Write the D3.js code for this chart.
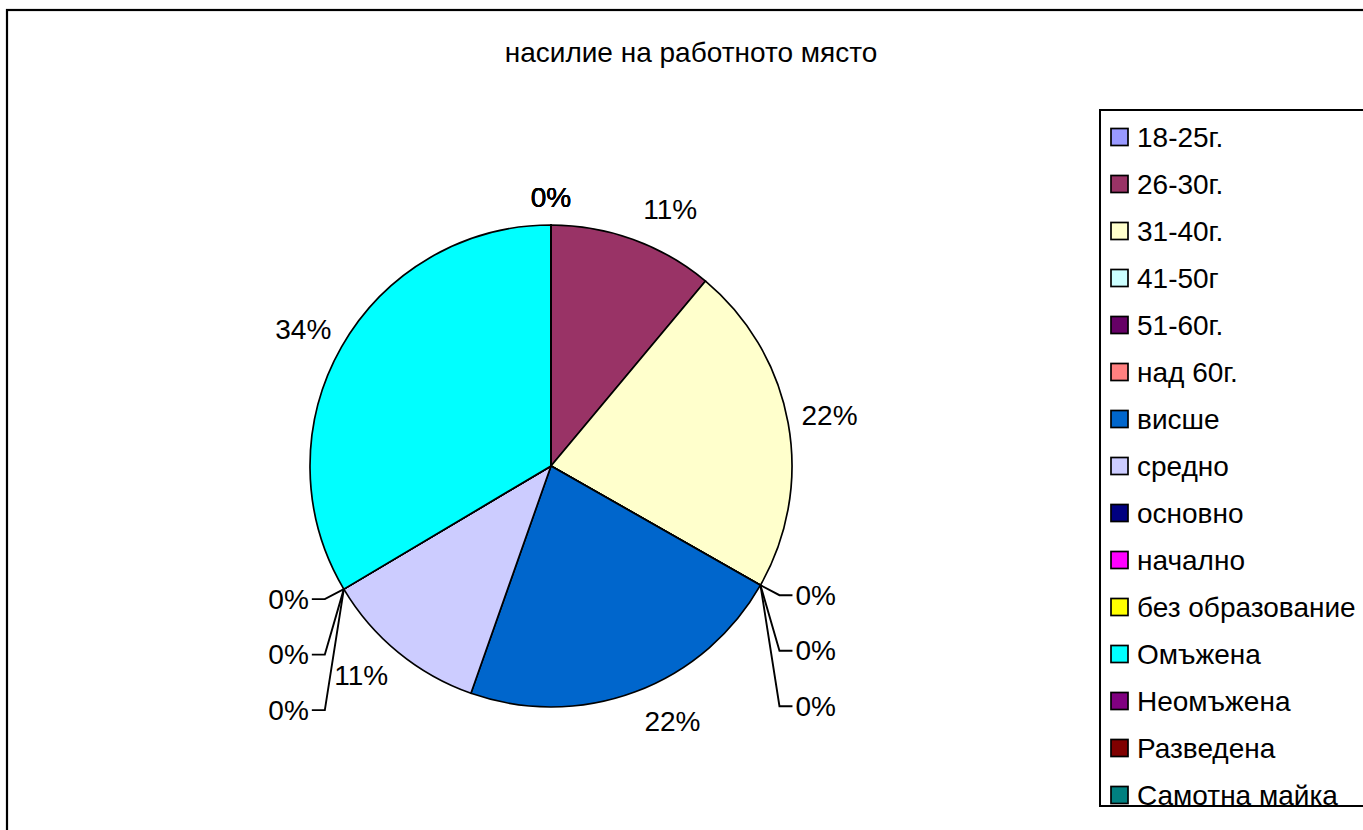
<!DOCTYPE html>
<html>
<head>
<meta charset="utf-8">
<script src="https://cdn.jsdelivr.net/npm/d3@7"></script>
<style>
  html, body { margin: 0; padding: 0; background: #fff; overflow: hidden; }
  text { font-family: "Liberation Sans", Arial, sans-serif; fill: #000; }
</style>
</head>
<body>
<svg id="chart" width="1363" height="830"></svg>
<script>
const title = "насилие на работното място";
const categories = ["18-25г.", "26-30г.", "31-40г.", "41-50г", "51-60г.", "над 60г.", "висше", "средно", "основно", "начално", "без образование", "Омъжена", "Неомъжена", "Разведена", "Самотна майка"];
const values = [0, 11.1, 22.2, 0, 0, 0, 22.2, 11.1, 0, 0, 0, 33.6, 0, 0, 0];
const colors = ["#9999FF", "#993366", "#FFFFCC", "#CCFFFF", "#660066", "#FF8080", "#0066CC", "#CCCCFF", "#000080", "#FF00FF", "#FFFF00", "#00FFFF", "#800080", "#800000", "#008080"];

const W = 1363, H = 830;
const svg = d3.select("#chart");
const FS = 28;

// outer chart border
svg.append("rect").attr("x", 7).attr("y", 10).attr("width", W + 20).attr("height", H + 20)
  .attr("fill", "#fff").attr("stroke", "#000").attr("stroke-width", 2.2);

// title
svg.append("text").attr("x", 691).attr("y", 62).attr("text-anchor", "middle")
  .style("font-size", FS + "px").text(title);

const color = d3.scaleOrdinal().domain(categories).range(colors);
const total = d3.sum(values);
const pct = d3.format(".0%");

const cx = 551, cy = 466, r = 241;
const g = svg.append("g").attr("transform", `translate(${cx},${cy})`);
const pie = d3.pie().sort(null).value(d => d.v);
const data = pie(categories.map((c, i) => ({ c, v: values[i] })));
const arc = d3.arc().innerRadius(0).outerRadius(r);

g.selectAll("path.slice").data(data).join("path")
  .attr("class", "slice")
  .attr("d", arc)
  .attr("fill", d => color(d.data.c))
  .attr("stroke", "#000").attr("stroke-width", 1.7).attr("stroke-linejoin", "round");

// labels for non-zero slices (pushed a little away from the vertical axis)
const labR = 283;
function labAngle(d) {
  const m = (d.startAngle + d.endAngle) / 2;
  return m + Math.sign(Math.sin(2 * m)) * (6 * Math.PI / 180) * Math.pow(Math.abs(Math.cos(m)), 3);
}
g.selectAll("text.lab").data(data.filter(d => d.data.v > 0)).join("text")
  .attr("class", "lab")
  .attr("x", d => labR * Math.sin(labAngle(d)))
  .attr("y", d => -labR * Math.cos(labAngle(d)))
  .attr("text-anchor", "middle").attr("dominant-baseline", "central")
  .style("font-size", FS + "px")
  .text(d => pct(d.data.v / total));

// labels for zero slices
const zeros = data.filter(d => d.data.v === 0);
const groups = d3.group(zeros, d => (Math.cos(d.startAngle) > 0.99999 ? "top" : d.startAngle.toFixed(4)));
for (const [key, arr] of groups) {
  if (key === "top") {
    g.selectAll(null).data(arr).join("text")
      .attr("x", 0).attr("y", -(r + 28))
      .attr("text-anchor", "middle").attr("dominant-baseline", "central")
      .style("font-size", FS + "px")
      .text(d => pct(d.data.v / total));
    continue;
  }
  const a = +key;
  const jx = r * Math.sin(a), jy = -r * Math.cos(a);
  const side = Math.sin(a) > 0 ? 1 : -1;
  arr.forEach((d, k) => {
    const ly = jy + 10 + k * 55.5;
    g.append("polyline")
      .attr("points", [[jx, jy], [jx + side * 19, ly], [jx + side * 32, ly]].map(p => p.join(",")).join(" "))
      .attr("fill", "none").attr("stroke", "#000").attr("stroke-width", 1.9);
    g.append("text")
      .attr("x", jx + side * 35).attr("y", ly)
      .attr("text-anchor", side > 0 ? "start" : "end").attr("dominant-baseline", "central")
      .style("font-size", FS + "px")
      .text(pct(d.data.v / total));
  });
}

// legend
const lg = svg.append("g");
lg.append("rect").attr("x", 1100).attr("y", 110).attr("width", 400).attr("height", 696)
  .attr("fill", "#fff").attr("stroke", "#000").attr("stroke-width", 2);
const ly = d3.scalePoint().domain(categories).range([137, 795]);
const items = lg.selectAll("g.item").data(categories).join("g").attr("class", "item")
  .attr("transform", d => `translate(0,${ly(d)})`);
items.append("rect").attr("x", 1111).attr("y", -8.5).attr("width", 17).attr("height", 17)
  .attr("fill", d => color(d)).attr("stroke", "#000").attr("stroke-width", 1.7);
items.append("text").attr("x", 1137).attr("y", 0).attr("dominant-baseline", "central")
  .style("font-size", FS + "px").text(d => d);
</script>
</body>
</html>
